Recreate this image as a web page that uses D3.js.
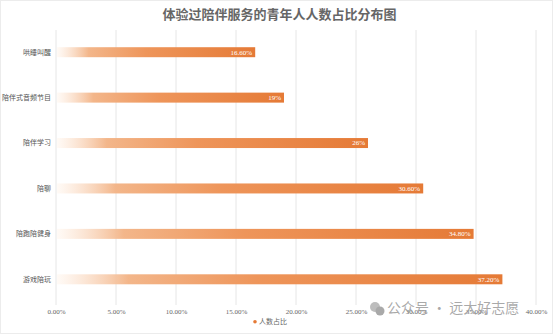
<!DOCTYPE html>
<html><head><meta charset="utf-8">
<script src="https://cdn.jsdelivr.net/npm/d3@7/dist/d3.min.js"></script>
<style>
html,body{margin:0;padding:0;background:#fff;}
svg{display:block;}
text{font-family:"Noto Sans CJK SC","Noto Sans",sans-serif;}
</style></head>
<body>
<svg id="chart" width="553" height="334"></svg>
<script>
const categories = ["哄睡叫醒","陪伴式音频节目","陪伴学习","陪聊","陪跑陪健身","游戏陪玩"];
const values = [16.6, 19, 26, 30.6, 34.8, 37.2];
const valueLabels = ["16.60%","19%","26%","30.60%","34.80%","37.20%"];
const xTicks = [0,5,10,15,20,25,30,35,40];
const title = "体验过陪伴服务的青年人人数占比分布图";
const axisTitle = "人数占比";
const watermark = "公众号 · 远大好志愿";

const W = 553, H = 334;
const svg = d3.select("#chart");
svg.append("rect").attr("x",0.5).attr("y",0.5).attr("width",W-1).attr("height",H-1)
  .attr("fill","#fff").attr("stroke","#ececec");

const x = d3.scaleLinear().domain([0,40]).range([56,536]);
const y = d3.scaleBand().domain(categories).range([29.5,302]).paddingInner(0.78).paddingOuter(0.39);

// gradient
const defs = svg.append("defs");
const g = defs.append("linearGradient").attr("id","barGrad").attr("x1","0").attr("x2","1").attr("y1","0").attr("y2","0");
g.append("stop").attr("offset","0").attr("stop-color","#fff7f0").attr("stop-opacity",0.6);
g.append("stop").attr("offset","0.16").attr("stop-color","#f3b68a");
g.append("stop").attr("offset","0.45").attr("stop-color","#ee955a");
g.append("stop").attr("offset","1").attr("stop-color","#e57a36");

// title
svg.append("text").attr("x",W/2+3).attr("y",19).attr("text-anchor","middle")
  .attr("font-size",13).attr("font-weight","bold").attr("fill","#666").text(title);

// grid
const gridTop = 30, gridBottom = 300;
svg.append("g").selectAll("line").data(xTicks).join("line")
  .attr("x1",d=>x(d)).attr("x2",d=>x(d)).attr("y1",gridTop).attr("y2",gridBottom+5)
  .attr("stroke","#e6e6e6").attr("stroke-width",1);

// x axis labels
const xAxis = d3.axisBottom(x).tickValues(xTicks).tickSize(0).tickFormat(d=>d3.format(".2f")(d)+"%");
const ax = svg.append("g").attr("transform",`translate(0,${gridBottom+6})`).call(xAxis);
ax.select(".domain").remove();
ax.selectAll("text").attr("font-size",7).attr("fill","#666").attr("dy","0.71em")
  .style("font-family","'Liberation Serif',serif");

// axis title
const at = svg.append("g").attr("transform","translate(270,324)");
at.append("circle").attr("cx",-15).attr("cy",-2.3).attr("r",1.8).attr("fill","#e57a36");
at.append("text").attr("x",-11).attr("y",0).attr("font-size",7).attr("fill","#666").text(axisTitle);

// category labels
svg.append("g").selectAll("text").data(categories).join("text")
  .attr("x",51).attr("y",d=>y(d)+y.bandwidth()/2).attr("dy","0.35em")
  .attr("text-anchor","end").attr("font-size",7).attr("fill","#555").text(d=>d);

// bars
svg.append("g").selectAll("rect").data(values).join("rect")
  .attr("x",x(0)+1).attr("y",(d,i)=>y(categories[i]))
  .attr("width",d=>x(d)-x(0)-1).attr("height",y.bandwidth())
  .attr("fill","url(#barGrad)");

// value labels
svg.append("g").selectAll("text").data(values).join("text")
  .attr("x",d=>x(d)-3).attr("y",(d,i)=>y(categories[i])+y.bandwidth()/2).attr("dy","0.35em")
  .attr("text-anchor","end").attr("font-size",7).attr("fill","#fff")
  .style("font-family","'Liberation Serif',serif")
  .text((d,i)=>valueLabels[i]);

// watermark
const wm = svg.append("g").attr("transform","translate(375,310)");
wm.append("circle").attr("cx",0).attr("cy",-3).attr("r",5).attr("fill","#bdbdbd");
wm.append("circle").attr("cx",5).attr("cy",1).attr("r",4.5).attr("fill","#a9a9a9");
wm.append("text").attr("x",12).attr("y",3).attr("font-size",14).attr("fill","#9a9a9a")
  .attr("fill-opacity",0.85).text(watermark);
</script>
</body></html>
